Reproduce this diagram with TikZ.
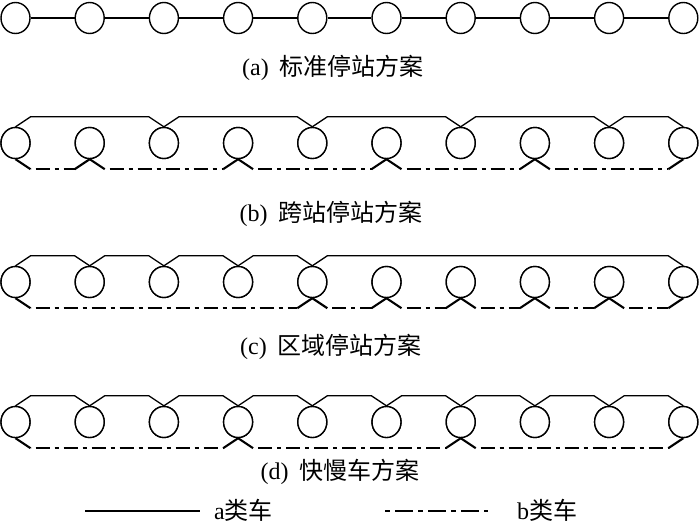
\documentclass[tikz,border=0pt]{standalone}
\usepackage{fontspec}
\setmainfont{Liberation Serif}
\newfontfamily\cjk{Noto Sans CJK SC}
\usetikzlibrary{shapes.geometric}
\tikzset{
  stn/.style={ellipse,draw,fill=white,line width=1.4pt,minimum width=29pt,minimum height=31pt,inner sep=0pt},
  aline/.style={line width=1.3pt,line join=miter},
  bdiag/.style={line width=2.1pt},
  bdash/.style={line width=2.1pt,dash pattern=on 14pt off 5pt on 4pt off 5pt,dash phase=-5pt},
  lbl/.style={font=\fontsize{24}{27}\selectfont,inner sep=0pt}
}
\newcommand{\capt}[2]{#1\hskip 11pt{\cjk #2}}
\begin{document}
\begin{tikzpicture}[x=1pt,y=-1pt]
\useasboundingbox (0,0) rectangle (700,525);
% row positions
\def\ya{18}\def\yb{143}\def\yc{282}\def\yd{422}
% ---------- (a)
\foreach \i in {0,...,9} \node[stn] (a\i) at ({15.5+74.2*\i},\ya) {};
\foreach \i [evaluate=\i as \j using int(\i+1)] in {0,...,8} \draw[line width=1.4pt] (a\i) -- (a\j);
\node[lbl] (la) at (333,68) {\capt{(a)}{标准停站方案}};
% ---------- (b)
\foreach \i in {0,...,9} \node[stn] (b\i) at ({15.5+74.2*\i},\yb) {};
\foreach \p/\q in {0/2,2/4,4/6,6/8,8/9}
  \draw[aline] (b\p.north) -- ++(15,-10) -- ([xshift=-15pt,yshift=10pt]b\q.north) -- (b\q.north);
\foreach \p/\q in {0/1,1/3,3/5,5/7,7/9}{
  \draw[bdiag] (b\p.south) -- ([xshift=15pt,yshift=-10pt]b\p.south);
  \draw[bdash] ([xshift=15pt,yshift=-10pt]b\p.south) -- ([xshift=-15pt,yshift=-10pt]b\q.south);
  \draw[bdiag] ([xshift=-15pt,yshift=-10pt]b\q.south) -- (b\q.south);
}
\foreach \i in {0,...,9} \node[stn] at (b\i) {};
\node[lbl] (lb) at (331,214) {\capt{(b)}{跨站停站方案}};
% ---------- (c)
\foreach \i in {0,...,9} \node[stn] (c\i) at ({15.5+74.2*\i},\yc) {};
\foreach \p/\q in {0/1,1/2,2/3,3/4,4/9}
  \draw[aline] (c\p.north) -- ++(15,-10) -- ([xshift=-15pt,yshift=10pt]c\q.north) -- (c\q.north);
\foreach \p/\q in {0/4,4/5,5/6,6/7,7/8,8/9}{
  \draw[bdiag] (c\p.south) -- ([xshift=15pt,yshift=-10pt]c\p.south);
  \draw[bdash] ([xshift=15pt,yshift=-10pt]c\p.south) -- ([xshift=-15pt,yshift=-10pt]c\q.south);
  \draw[bdiag] ([xshift=-15pt,yshift=-10pt]c\q.south) -- (c\q.south);
}
\foreach \i in {0,...,9} \node[stn] at (c\i) {};
\node[lbl] (lc) at (331,347) {\capt{(c)}{区域停站方案}};
% ---------- (d)
\foreach \i in {0,...,9} \node[stn] (d\i) at ({15.5+74.2*\i},\yd) {};
\foreach \p/\q in {0/1,1/2,2/3,3/4,4/5,5/6,6/7,7/8,8/9}
  \draw[aline] (d\p.north) -- ++(15,-10) -- ([xshift=-15pt,yshift=10pt]d\q.north) -- (d\q.north);
\foreach \p/\q in {0/3,3/6,6/9}{
  \draw[bdiag] (d\p.south) -- ([xshift=15pt,yshift=-10pt]d\p.south);
  \draw[bdash] ([xshift=15pt,yshift=-10pt]d\p.south) -- ([xshift=-15pt,yshift=-10pt]d\q.south);
  \draw[bdiag] ([xshift=-15pt,yshift=-10pt]d\q.south) -- (d\q.south);
}
\foreach \i in {0,...,9} \node[stn] at (d\i) {};
\node[lbl] (ld) at (340,472) {\capt{(d)}{快慢车方案}};
% ---------- legend
\coordinate (s1) at (85,511); \coordinate (s2) at (200,511);
\draw[line width=1.4pt] (s1) -- (s2);
\node[lbl,anchor=west] (ta) at (214,510) {a{\cjk 类车}};
\coordinate (t1) at (385,511); \coordinate (t2) at (488,511);
\draw[bdash,dash phase=0pt,dash pattern=on 5pt off 5pt on 18pt off 5pt] (t1) -- (t2);
\node[lbl,anchor=west] (tb) at (517,510) {b{\cjk 类车}};
\end{tikzpicture}
\end{document}
